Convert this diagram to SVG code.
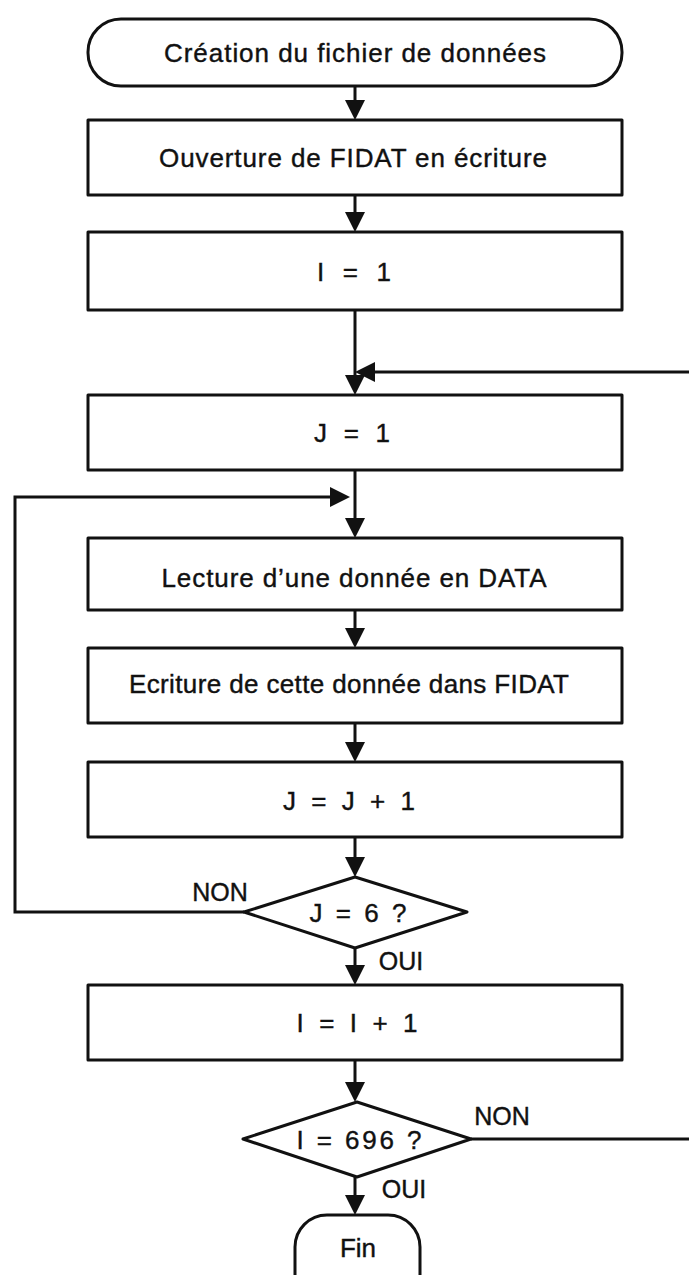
<svg xmlns="http://www.w3.org/2000/svg" width="689" height="1275" viewBox="0 0 689 1275">
<style>
.shape{fill:#fff;stroke:#111;stroke-width:3;stroke-linejoin:round}
.t{font-family:"Liberation Sans",Arial,sans-serif;font-size:26px;fill:#111;stroke:#111;stroke-width:0.4;text-anchor:middle}
.lbl{font-family:"Liberation Sans",Arial,sans-serif;font-size:25px;fill:#111;stroke:#111;stroke-width:0.4;text-anchor:middle}
.conn{fill:none;stroke:#111;stroke-width:3;marker-end:url(#ah)}
</style>
<defs>
<marker id="ah" viewBox="0 0 20 20" markerWidth="20" markerHeight="20" refX="9" refY="10" orient="auto" markerUnits="userSpaceOnUse">
<path d="M0,0 L20,10 L0,20 Z" fill="#111"/>
</marker>
</defs>
<rect width="689" height="1275" fill="#fff"/>
<g id="connectors">
<path class="conn" d="M355,86 V109"/>
<path class="conn" d="M355,195 V221"/>
<path class="conn" d="M355,310 V384"/>
<path class="conn" d="M471,1139 H692 V372 H366"/>
<path class="conn" d="M355,470 V527"/>
<path class="conn" d="M244,912 H15 V497 H339"/>
<path class="conn" d="M355,610 V637"/>
<path class="conn" d="M355,723 V751"/>
<path class="conn" d="M355,837 V866"/>
<path class="conn" d="M355,948 V974"/>
<path class="conn" d="M355,1060 V1091"/>
<path class="conn" d="M355,1177 V1204"/>
</g>
<g id="start">
<rect class="shape" x="88" y="19" width="534" height="67" rx="33"/>
<text class="t" x="355" y="62" textLength="382" lengthAdjust="spacing">Création du fichier de données</text>
</g>
<g id="open">
<rect class="shape" x="88" y="120" width="534" height="75"/>
<text class="t" x="353" y="167" textLength="388" lengthAdjust="spacing">Ouverture de FIDAT en écriture</text>
</g>
<g id="i1">
<rect class="shape" x="88" y="232" width="534" height="78"/>
<text class="t" x="354" y="281" textLength="74" lengthAdjust="spacing">I = 1</text>
</g>
<g id="j1">
<rect class="shape" x="88" y="395" width="534" height="75"/>
<text class="t" x="352" y="442" textLength="76" lengthAdjust="spacing">J = 1</text>
</g>
<g id="read">
<rect class="shape" x="88" y="538" width="534" height="72"/>
<text class="t" x="354" y="587" textLength="385" lengthAdjust="spacing">Lecture d’une donnée en DATA</text>
</g>
<g id="write">
<rect class="shape" x="88" y="648" width="534" height="75"/>
<text class="t" x="349" y="693" textLength="440" lengthAdjust="spacing">Ecriture de cette donnée dans FIDAT</text>
</g>
<g id="jinc">
<rect class="shape" x="88" y="762" width="534" height="75"/>
<text class="t" x="349" y="810" textLength="132" lengthAdjust="spacing">J = J + 1</text>
</g>
<g id="test-j">
<polygon class="shape" points="355,877 467,912 355,948 244,912"/>
<text class="t" x="358" y="922" textLength="97" lengthAdjust="spacing">J = 6 ?</text>
<text class="lbl" x="220" y="901">NON</text>
<text class="lbl" x="401" y="970">OUI</text>
</g>
<g id="iinc">
<rect class="shape" x="88" y="985" width="534" height="75"/>
<text class="t" x="357" y="1032" textLength="121" lengthAdjust="spacing">I = I + 1</text>
</g>
<g id="test-i">
<polygon class="shape" points="357,1102 471,1139 357,1177 243,1139"/>
<text class="t" x="359" y="1149" textLength="125" lengthAdjust="spacing">I = 696 ?</text>
<text class="lbl" x="502" y="1125">NON</text>
<text class="lbl" x="404" y="1198">OUI</text>
</g>
<g id="end">
<rect class="shape" x="295" y="1215" width="125" height="95" rx="32"/>
<text class="t" x="358" y="1257">Fin</text>
</g>
</svg>
